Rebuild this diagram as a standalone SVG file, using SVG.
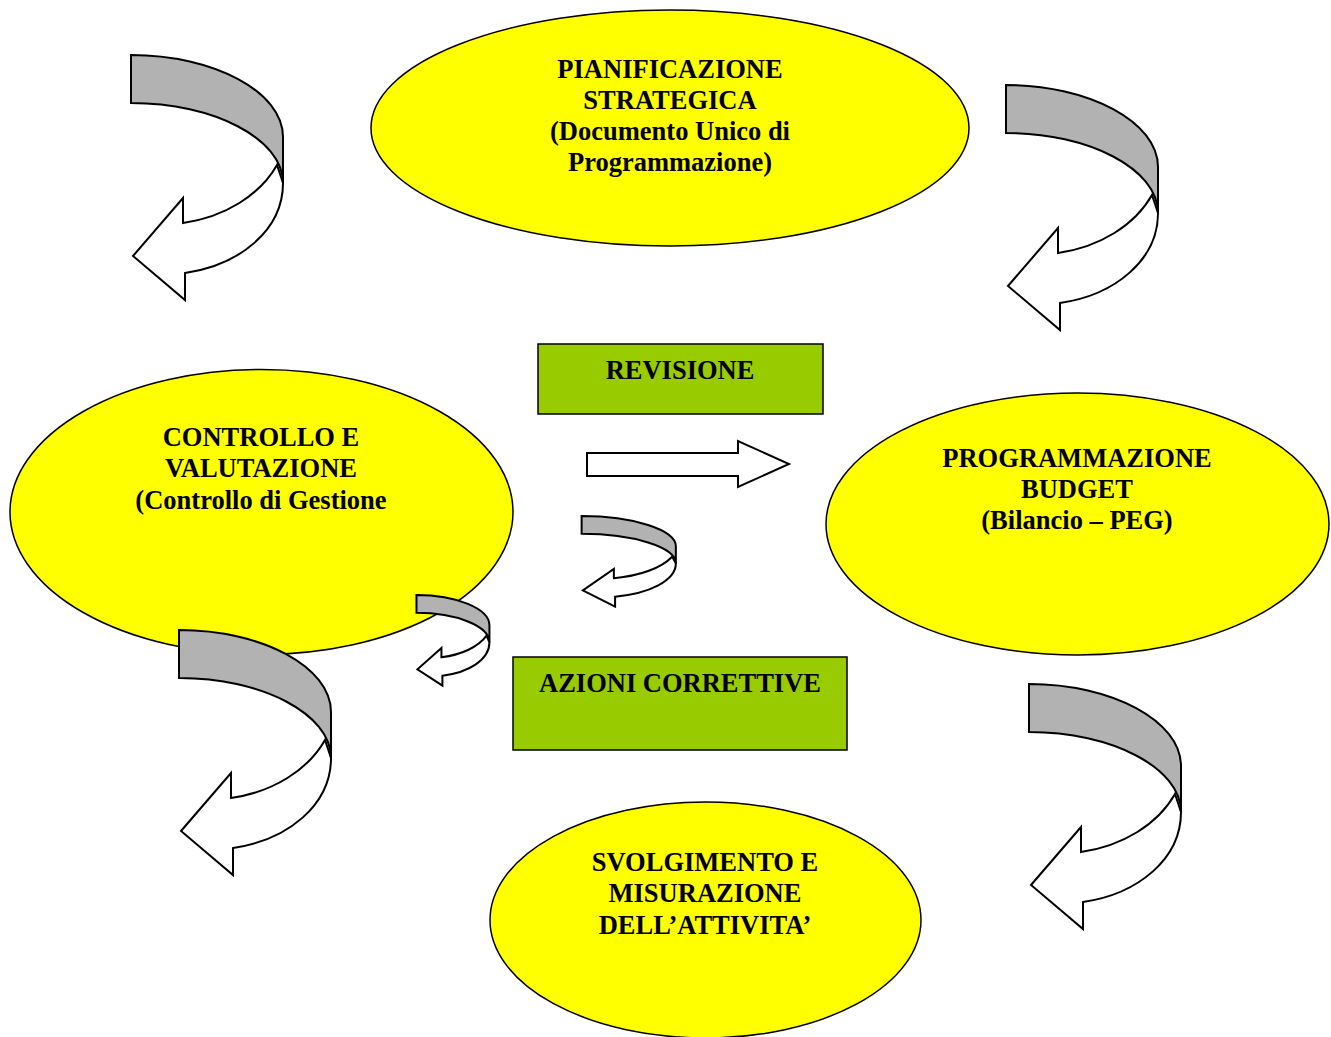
<svg xmlns="http://www.w3.org/2000/svg" width="1331" height="1037" viewBox="0 0 1331 1037">
<style>
.ell{fill:#ffff00;stroke:#000;stroke-width:1.5}
.box{fill:#99cc00;stroke:#000;stroke-width:1.5}
.t{font-family:"Liberation Serif","Times New Roman",serif;font-weight:bold;font-size:26.5px;text-anchor:middle;fill:#000}
.w{fill:#fff;stroke:#000;stroke-width:2;stroke-linejoin:miter;vector-effect:non-scaling-stroke}
.g{fill:#b2b2b2;stroke:#000;stroke-width:2;vector-effect:non-scaling-stroke}
</style>
<defs>
<g id="curl">
<path class="w" d="M147,110 C130,140 95,162 53,168 L53,143 L3,201 L55,245 L55,218 C110,210 153,175 153,128 Z"/>
<path class="g" d="M1,0 C84,0 153,37 153,82 L153,128 C153,84 84,48 1,48 Z"/>
</g>
</defs>
<g id="n-pianificazione">
<ellipse class="ell" cx="670" cy="128" rx="299" ry="118"/>
<text class="t" x="670" y="78">PIANIFICAZIONE</text>
<text class="t" x="670" y="109">STRATEGICA</text>
<text class="t" x="670" y="140">(Documento Unico di</text>
<text class="t" x="670" y="171">Programmazione)</text>
</g>
<g id="n-controllo">
<ellipse class="ell" cx="261.5" cy="512" rx="251.5" ry="142.5"/>
<text class="t" x="261" y="446">CONTROLLO E</text>
<text class="t" x="261" y="477">VALUTAZIONE</text>
<text class="t" x="261" y="509">(Controllo di Gestione</text>
</g>
<g id="n-programmazione">
<ellipse class="ell" cx="1077.5" cy="524" rx="251.5" ry="131"/>
<text class="t" x="1077" y="467">PROGRAMMAZIONE</text>
<text class="t" x="1077" y="498">BUDGET</text>
<text class="t" x="1077" y="529">(Bilancio – PEG)</text>
</g>
<g id="n-svolgimento">
<ellipse class="ell" cx="705.5" cy="920" rx="215.5" ry="118"/>
<text class="t" x="705" y="871">SVOLGIMENTO E</text>
<text class="t" x="705" y="902">MISURAZIONE</text>
<text class="t" x="705" y="934">DELL’ATTIVITA’</text>
</g>
<g id="n-revisione">
<rect class="box" x="538" y="344" width="285" height="70"/>
<text class="t" x="680" y="379">REVISIONE</text>
</g>
<g id="n-azioni">
<rect class="box" x="513" y="657" width="334" height="93"/>
<text class="t" x="680" y="692">AZIONI CORRETTIVE</text>
</g>
<g id="connectors">
<use href="#curl" transform="translate(130,55)"/>
<use href="#curl" transform="translate(1005,85)"/>
<use href="#curl" transform="translate(178,630)"/>
<use href="#curl" transform="translate(1028,684)"/>
<use href="#curl" transform="translate(581,516) scale(0.62,0.37)"/>
<use href="#curl" transform="translate(416,595) scale(0.48,0.37)"/>
<path class="w" d="M587,453 L738,453 L738,441 L789,464 L738,487 L738,476 L587,476 Z"/>
</g>
</svg>
